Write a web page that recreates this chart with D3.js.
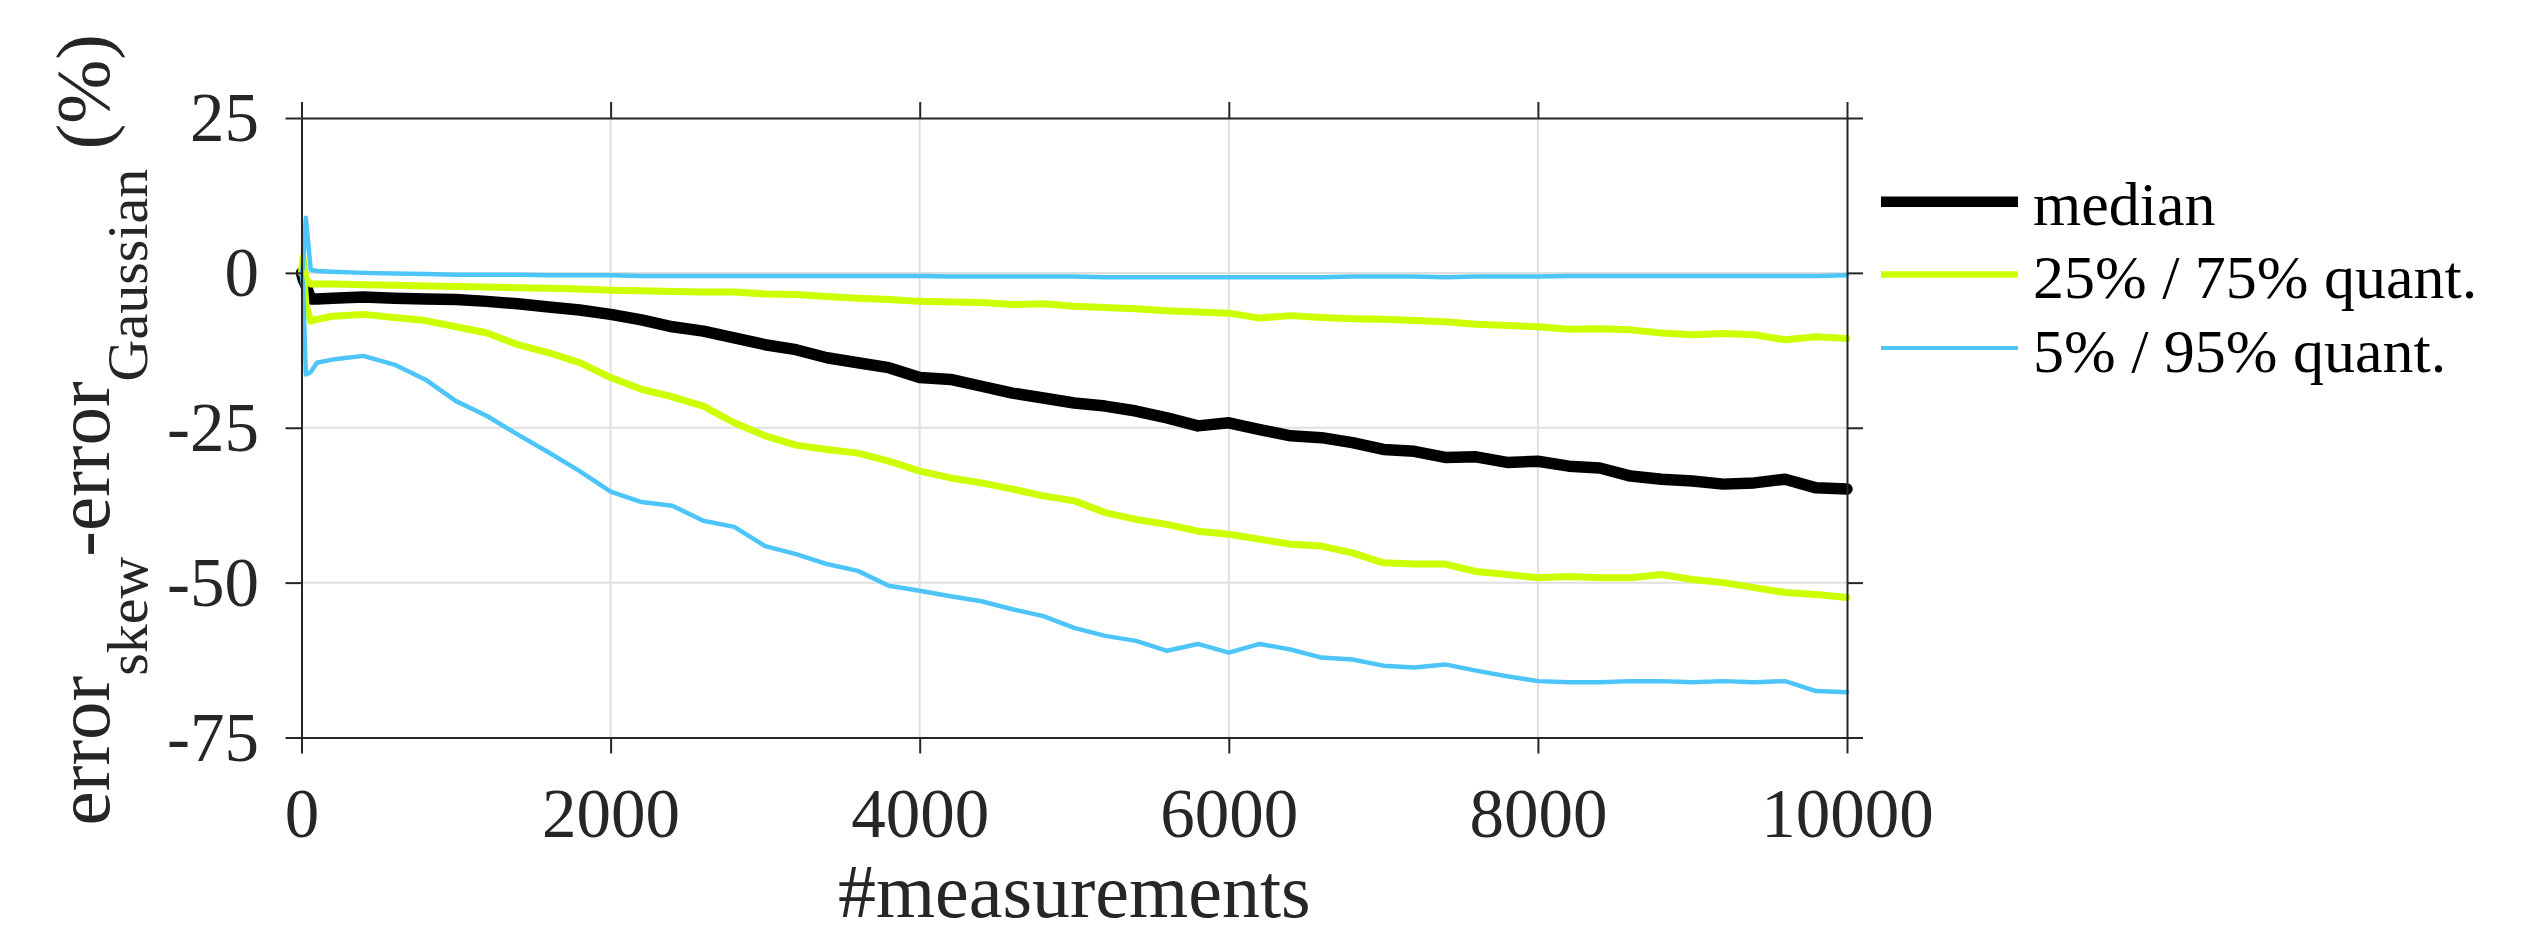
<!DOCTYPE html>
<html lang="en">
<head>
  <meta charset="UTF-8" />
  <title>error skew - error Gaussian</title>
  <script src="https://d3js.org/d3.v7.min.js"></script>
  <style>
    body {
      margin: 0;
      background: #fff;
    }
    svg text {
      font-family: "Liberation Serif", "Times New Roman", serif;
    }
  </style>
</head>
<body>
  <svg id="chart" width="2532" height="928"></svg>

  <script>
    const measurements = [0, 10, 28, 60, 100,
      200, 400, 600, 800, 1000, 1200, 1400, 1600, 1800, 2000,
      2200, 2400, 2600, 2800, 3000, 3200, 3400, 3600, 3800, 4000,
      4200, 4400, 4600, 4800, 5000, 5200, 5400, 5600, 5800, 6000,
      6200, 6400, 6600, 6800, 7000, 7200, 7400, 7600, 7800, 8000,
      8200, 8400, 8600, 8800, 9000, 9200, 9400, 9600, 9800, 10000];

    const median = [0, -1, -2, -4.2, -4.2,
      -4.1, -3.9, -4.1, -4.2, -4.3, -4.6, -5.0, -5.5, -6.0, -6.7,
      -7.6, -8.7, -9.4, -10.5, -11.6, -12.4, -13.7, -14.5, -15.3, -16.9,
      -17.2, -18.3, -19.4, -20.2, -21.0, -21.5, -22.3, -23.4, -24.7, -24.2,
      -25.3, -26.3, -26.6, -27.4, -28.5, -28.8, -29.8, -29.7, -30.6, -30.4,
      -31.2, -31.5, -32.8, -33.3, -33.6, -34.1, -33.9, -33.3, -34.7, -34.9];

    const q75 = [0, 2.5, -1.0, -1.8, -1.8,
      -1.8, -1.9, -2.0, -2.1, -2.2, -2.3, -2.4, -2.5, -2.6, -2.8,
      -2.9, -3.0, -3.1, -3.1, -3.4, -3.5, -3.8, -4.1, -4.3, -4.6,
      -4.7, -4.8, -5.1, -5.0, -5.4, -5.6, -5.8, -6.1, -6.3, -6.5,
      -7.3, -6.9, -7.2, -7.4, -7.5, -7.7, -7.9, -8.3, -8.5, -8.7,
      -9.1, -9.0, -9.2, -9.7, -10.0, -9.8, -10.0, -10.8, -10.3, -10.6];

    const q25 = [0, 1.5, -5, -7.8, -7.5,
      -7.0, -6.7, -7.2, -7.7, -8.7, -9.7, -11.6, -12.9, -14.5, -16.9,
      -18.8, -20.0, -21.5, -24.2, -26.3, -27.8, -28.5, -29.1, -30.4, -32.0,
      -33.1, -33.9, -34.9, -36.0, -36.8, -38.7, -39.8, -40.6, -41.7, -42.2,
      -43.0, -43.8, -44.1, -45.2, -46.8, -47.0, -47.0, -48.2, -48.7, -49.2,
      -49.0, -49.2, -49.2, -48.7, -49.5, -50.0, -50.8, -51.6, -51.9, -52.4];

    const q95 = [0, 1, 8.9, 0.5, 0.3,
      0.2, 0.0, -0.1, -0.2, -0.3, -0.3, -0.3, -0.4, -0.4, -0.4,
      -0.5, -0.5, -0.5, -0.5, -0.5, -0.5, -0.5, -0.5, -0.5, -0.5,
      -0.6, -0.6, -0.6, -0.6, -0.6, -0.7, -0.7, -0.7, -0.7, -0.7,
      -0.7, -0.7, -0.7, -0.6, -0.6, -0.6, -0.7, -0.6, -0.6, -0.6,
      -0.5, -0.5, -0.5, -0.5, -0.5, -0.5, -0.5, -0.5, -0.5, -0.4];

    const q5 = [0, -2, -16.4, -16.0, -14.5,
      -14.0, -13.4, -14.8, -17.2, -20.7, -23.1, -26.1, -29.0, -32.0, -35.3,
      -37.0, -37.6, -40.0, -41.0, -44.1, -45.4, -47.0, -48.1, -50.5, -51.3,
      -52.2, -53.0, -54.3, -55.4, -57.3, -58.6, -59.4, -61.0, -59.9, -61.3,
      -59.9, -60.8, -62.1, -62.4, -63.4, -63.7, -63.2, -64.2, -65.1, -65.9,
      -66.1, -66.1, -65.9, -65.9, -66.1, -65.9, -66.1, -65.9, -67.5, -67.7];

    const xTicks = [0, 2000, 4000, 6000, 8000, 10000];
    const yTicks = [25, 0, -25, -50, -75];
    const legendLabels = ["median", "25% / 75% quant.", "5% / 95% quant."];

    const black = "#000000";
    const lime = "#ccff00";
    const sky = "#4dc5f9";
    const axisColor = "#262626";

    const svg = d3.select("#chart");

    const x = d3.scaleLinear().domain([0, 10000]).range([301.5, 1847]);
    const y = d3.scaleLinear().domain([-75, 25]).range([737.5, 118]);

    // grid
    svg.append("g")
      .selectAll("line")
      .data(xTicks.slice(1, -1))
      .join("line")
      .attr("x1", d => x(d)).attr("x2", d => x(d))
      .attr("y1", y(25)).attr("y2", y(-75))
      .attr("stroke", "#dfdfdf").attr("stroke-width", 2);

    svg.append("g")
      .selectAll("line")
      .data(yTicks.slice(1, -1))
      .join("line")
      .attr("y1", d => y(d)).attr("y2", d => y(d))
      .attr("x1", x(0)).attr("x2", x(10000))
      .attr("stroke", "#dfdfdf").attr("stroke-width", 2);

    // series, drawn in legend order so the blue ends up on top
    const series = [
      { values: median, color: black, width: 11.5, key: 10.5 },
      { values: q75, color: lime, width: 7, key: 6.3 },
      { values: q25, color: lime, width: 7, key: 6.3 },
      { values: q95, color: sky, width: 4.5, key: 4 },
      { values: q5, color: sky, width: 4.5, key: 4 }
    ];

    const line = d3.line()
      .x((d, i) => x(measurements[i]))
      .y(d => y(d));

    svg.append("g")
      .selectAll("path")
      .data(series)
      .join("path")
      .attr("d", s => line(s.values))
      .attr("fill", "none")
      .attr("stroke", s => s.color)
      .attr("stroke-width", s => s.width)
      .attr("stroke-linejoin", "round")
      .attr("stroke-linecap", "round");

    // axes (box with outward ticks)
    const fmt = d => String(d);
    const tickLen = 16;

    const gBottom = svg.append("g")
      .attr("transform", `translate(0,${y(-75)})`)
      .call(d3.axisBottom(x).tickValues(xTicks).tickFormat(fmt).tickSize(tickLen).tickSizeOuter(0));
    gBottom.selectAll("text").attr("y", 99).attr("dy", null);

    const gLeft = svg.append("g")
      .attr("transform", `translate(${x(0)},0)`)
      .call(d3.axisLeft(y).tickValues(yTicks).tickFormat(fmt).tickSize(tickLen).tickSizeOuter(0));
    gLeft.selectAll("text").attr("x", -42.5).attr("dy", "0.33em");

    svg.append("g")
      .attr("transform", `translate(0,${y(25)})`)
      .call(d3.axisTop(x).tickValues(xTicks).tickFormat("").tickSize(tickLen).tickSizeOuter(0));

    svg.append("g")
      .attr("transform", `translate(${x(10000)},0)`)
      .call(d3.axisRight(y).tickValues(yTicks).tickFormat("").tickSize(tickLen).tickSizeOuter(0));

    svg.selectAll(".domain, .tick line")
      .attr("stroke", axisColor)
      .attr("stroke-width", 2);

    svg.selectAll(".tick text")
      .attr("fill", axisColor)
      .style("font-size", "69px");

    // axis labels
    svg.append("text")
      .attr("x", (x(0) + x(10000)) / 2)
      .attr("y", 917)
      .attr("text-anchor", "middle")
      .attr("fill", axisColor)
      .style("font-size", "76px")
      .text("#measurements");

    const yLabel = svg.append("text")
      .attr("transform", `translate(109,${(y(25) + y(-75)) / 2 + 2}) rotate(-90)`)
      .attr("text-anchor", "middle")
      .attr("fill", axisColor)
      .style("font-size", "77px");
    yLabel.append("tspan").text("error");
    yLabel.append("tspan").attr("dy", 38).style("font-size", "58px").text("skew");
    yLabel.append("tspan").attr("dy", -38).text("-error");
    yLabel.append("tspan").attr("dy", 38).style("font-size", "58px").text("Gaussian");
    yLabel.append("tspan").attr("dy", -38).text("\u00a0(%)");

    // legend
    const legendRows = [201.7, 274.5, 348];
    const legendSeries = [series[0], series[1], series[3]];

    const legend = svg.append("g")
      .selectAll("g")
      .data(legendLabels)
      .join("g")
      .attr("transform", (d, i) => `translate(0,${legendRows[i]})`);

    legend.append("line")
      .attr("x1", 1881).attr("x2", 2018)
      .attr("stroke", (d, i) => legendSeries[i].color)
      .attr("stroke-width", (d, i) => legendSeries[i].key);

    legend.append("text")
      .attr("x", 2033)
      .attr("y", 23.5)
      .attr("fill", "#000")
      .style("font-size", "62px")
      .text(d => d);
  </script>
</body>
</html>
